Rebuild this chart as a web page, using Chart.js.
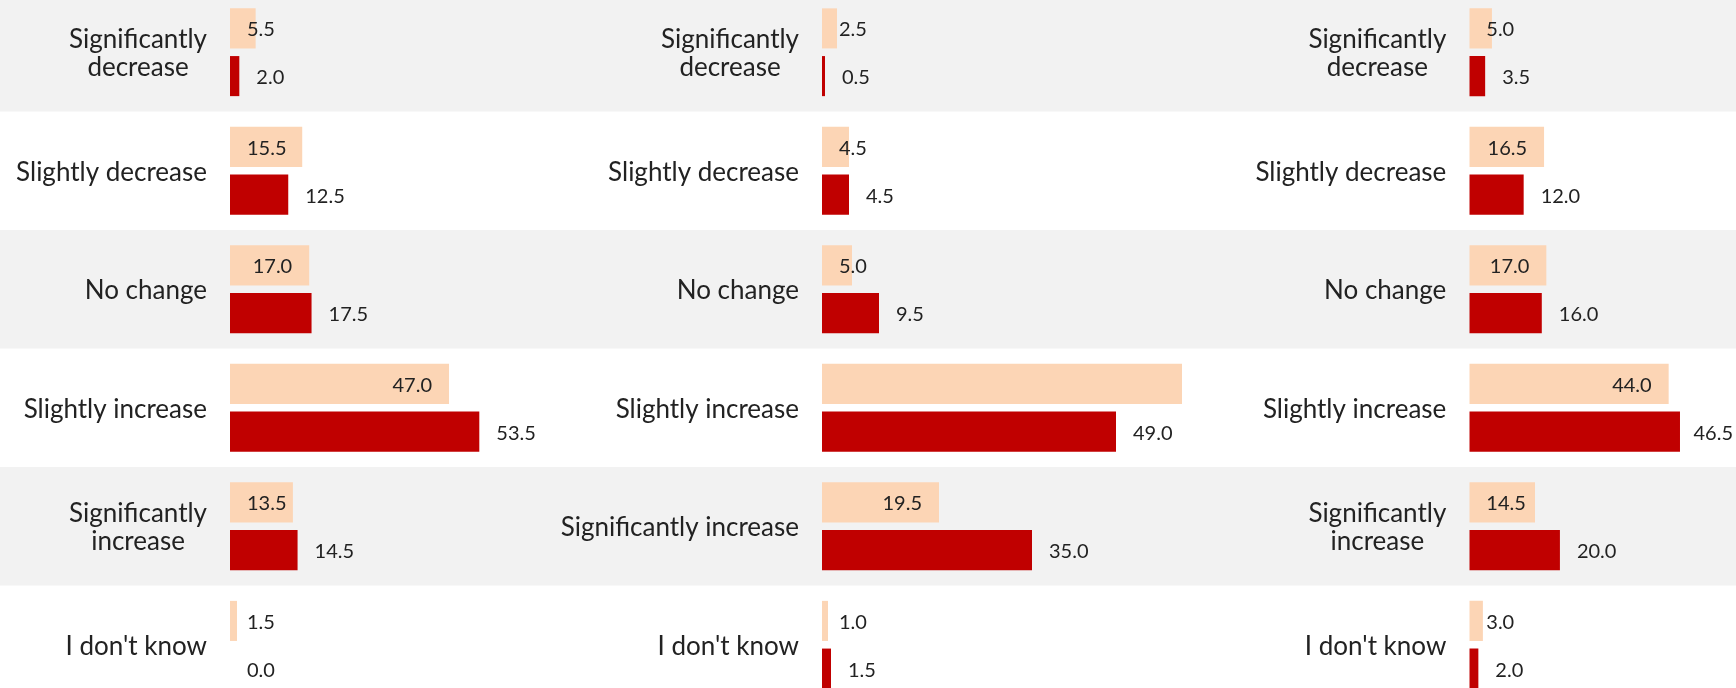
<!DOCTYPE html>
<html>
<head>
<meta charset="utf-8">
<script src="https://cdn.jsdelivr.net/npm/chart.js@4.4.1/dist/chart.umd.min.js"></script>
<style>
  html, body { margin: 0; padding: 0; background: #fff; overflow: hidden; }
  body { width: 1736px; height: 688px; position: relative; }
  canvas { position: absolute; top: -7px; }
</style>
</head>
<body>
<canvas id="c1" width="545" height="711" style="left:0px"></canvas>
<canvas id="c2" width="655" height="711" style="left:545px"></canvas>
<canvas id="c3" width="536" height="711" style="left:1200px"></canvas>
<script>
const categories = ['Significantly decrease', 'Slightly decrease', 'No change',
  'Slightly increase', 'Significantly increase', "I don't know"];

// light = first series, dark = second series
const panel1Light = [5.5, 15.5, 17.0, 47.0, 13.5, 1.5];
const panel1Dark  = [2.0, 12.5, 17.5, 53.5, 14.5, 0.0];
const panel2Light = [2.5, 4.5, 5.0, 60.0, 19.5, 1.0];
const panel2Dark  = [0.5, 4.5, 9.5, 49.0, 35.0, 1.5];
const panel3Light = [5.0, 16.5, 17.0, 44.0, 14.5, 3.0];
const panel3Dark  = [3.5, 12.0, 16.0, 46.5, 20.0, 2.0];

const LIGHT = '#FCD5B5';
const DARK = '#C00000';
const TEXT = '#222222';
const FONT = 'Lato, "Open Sans", sans-serif';

// alternating grey rows behind the categories
const bandPlugin = {
  id: 'bands',
  beforeDraw(chart) {
    const { ctx, scales: { y } } = chart;
    const step = y.getPixelForValue(1) - y.getPixelForValue(0);
    ctx.save();
    ctx.fillStyle = '#F2F2F2';
    chart.data.labels.forEach((l, i) => {
      if (i % 2 === 0) {
        const c = y.getPixelForValue(i);
        ctx.fillRect(0, c - step / 2, chart.width, step);
      }
    });
    ctx.restore();
  }
};

// category names, right edge near the axis, wrapped lines centred on each other
const catLabelPlugin = {
  id: 'catLabels',
  afterDraw(chart, args, opts) {
    const { ctx, chartArea, scales: { y } } = chart;
    ctx.save();
    ctx.font = '26px ' + FONT;
    ctx.fillStyle = TEXT;
    ctx.textAlign = 'center';
    ctx.textBaseline = 'middle';
    chart.data.labels.forEach((label, i) => {
      let lines = [label];
      if (opts.wrap.includes(i)) {
        const k = label.indexOf(' ');
        lines = [label.slice(0, k), label.slice(k + 1)];
      }
      const w = Math.max(...lines.map(s => ctx.measureText(s).width));
      const cx = chartArea.left - opts.gap - w / 2;
      const lh = 28;
      const cy = y.getPixelForValue(i) + 1.5 - (lines.length - 1) * lh / 2;
      lines.forEach((s, j) => ctx.fillText(s, cx, cy + j * lh));
    });
    ctx.restore();
  }
};

// value labels: light bars inside the end, dark bars just past the end
const valuePlugin = {
  id: 'values',
  afterDatasetsDraw(chart, args, opts) {
    const { ctx, scales: { x } } = chart;
    const base = x.getPixelForValue(0);
    ctx.save();
    ctx.font = '20px ' + FONT;
    ctx.fillStyle = TEXT;
    ctx.textBaseline = 'middle';
    ctx.textAlign = 'right';
    chart.data.datasets.forEach((ds, d) => {
      const meta = chart.getDatasetMeta(d);
      meta.data.forEach((bar, i) => {
        if (opts.hidden.some(h => h[0] === d && h[1] === i)) return;
        const txt = ds.data[i].toFixed(1);
        const w = ctx.measureText(txt).width;
        let right;
        if (d === 0) {
          right = Math.max(bar.x - 17, base + 17 + w);
        } else {
          right = Math.min(bar.x + 17 + w, chart.width - 3);
        }
        ctx.fillText(txt, right, bar.y + 1.5);
      });
    });
    ctx.restore();
  }
};

function makePanel(id, light, dark, cfg) {
  new Chart(document.getElementById(id), {
    type: 'bar',
    data: {
      labels: categories,
      datasets: [
        { data: light, backgroundColor: LIGHT },
        { data: dark, backgroundColor: DARK }
      ]
    },
    options: {
      indexAxis: 'y',
      responsive: false,
      animation: false,
      categoryPercentage: 0.805,
      barPercentage: 0.84,
      layout: { padding: { left: cfg.left, right: cfg.right, top: 0, bottom: 0 } },
      scales: {
        x: { display: false, min: 0, max: cfg.max },
        y: { display: false }
      },
      plugins: {
        legend: { display: false },
        tooltip: { enabled: false },
        catLabels: { wrap: cfg.wrap, gap: cfg.gap },
        values: { hidden: cfg.hidden || [] }
      }
    },
    plugins: [bandPlugin, catLabelPlugin, valuePlugin]
  });
}

makePanel('c1', panel1Light, panel1Dark, { left: 230, right: 12.1, max: 65, wrap: [0, 4], gap: 23 });
makePanel('c2', panel2Light, panel2Dark, { left: 277, right: 18, max: 60, wrap: [0], gap: 23, hidden: [[0, 3]] });
makePanel('c3', panel3Light, panel3Dark, { left: 269.3, right: 17.5, max: 55, wrap: [0, 4], gap: 23 });
</script>
</body>
</html>
